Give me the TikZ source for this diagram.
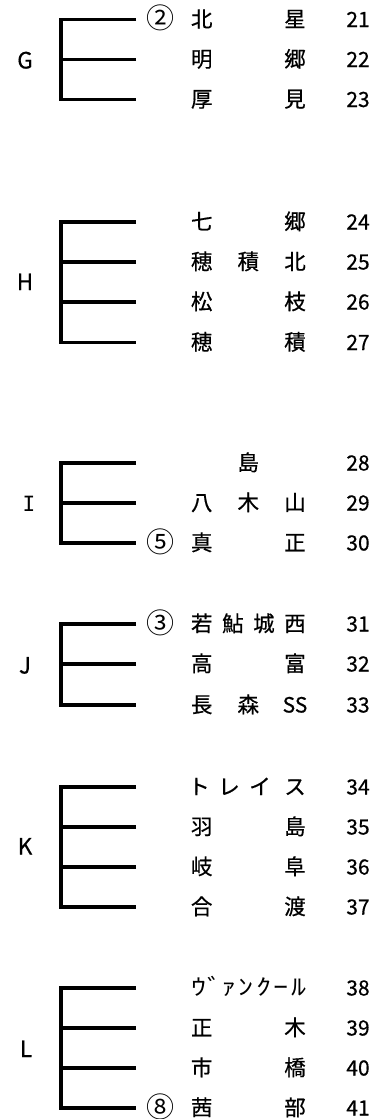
\documentclass[tikz,border=0pt]{standalone}
\usepackage{fontspec}
\setmainfont{Noto Sans CJK JP}[FakeBold=0.5]
\newfontfamily\monofnt{DejaVu Sans Mono}
\newfontfamily\hwfnt{Noto Sans CJK JP}
\newcommand\Tn[4]{\node[nm] (#1) at (#2,#3+7.5) {#4};}
\newcommand\Tc[3]{\node[circ] (#1) at (160,#2+9) {#3};}
\newcommand\Th[4]{\node[hw] (#1) at (#2,#3+7.5) {\scalebox{1.4}[1.05]{#4}};}
\begin{document}
\begin{tikzpicture}[x=1pt,y=-1pt,
  br/.style={line width=3.2pt, line join=miter},
  nm/.style={anchor=base, inner sep=0pt, font=\fontsize{21.5}{24}\selectfont},
  hw/.style={anchor=base, inner sep=0pt, font=\hwfnt\fontsize{21.5}{24}\selectfont},
  dg/.style={anchor=base, inner sep=0pt, font=\fontsize{21}{24}\selectfont},
  circ/.style={anchor=base, inner sep=0pt, font=\hwfnt\fontsize{28}{30}\selectfont},
  lab/.style={anchor=base, inner sep=0pt, font=\fontsize{22.5}{24}\selectfont}]
\useasboundingbox (0,0) rectangle (390,1119);
\coordinate (sp) at (61,0);
% ---------- G
\coordinate (g1) at (136,19.5); \coordinate (g2) at (136,59.5); \coordinate (g3) at (136,99.5);
\draw[br] (g1) -| (g3 -| sp) -- (g3);
\draw[br] (g2) -- (g2 -| sp);
\node[lab] (labG) at (25,59.5+9) {G};
\Tc{g1c}{19.5}{②}
\Tn{g1a}{201.7}{19.5}{北} \Tn{g1b}{295}{19.5}{星} \node[dg] (g1n) at (358,19.5+7.5) {21};
\Tn{g2a}{201.7}{59.5}{明} \Tn{g2b}{295}{59.5}{郷} \node[dg] (g2n) at (358,59.5+7.5) {22};
\Tn{g3a}{201.7}{99.5}{厚} \Tn{g3b}{295}{99.5}{見} \node[dg] (g3n) at (358,99.5+7.5) {23};
% ---------- H
\coordinate (h1) at (136,222); \coordinate (h2) at (136,262); \coordinate (h3) at (136,302); \coordinate (h4) at (136,342.5);
\draw[br] (h1) -| (h4 -| sp) -- (h4);
\draw[br] (h2) -- (h2 -| sp);
\draw[br] (h3) -- (h3 -| sp);
\node[lab] (labH) at (25,282.5+7.5) {H};
\Tn{h1a}{201.7}{222}{七} \Tn{h1b}{295}{222}{郷} \node[dg] (h1n) at (358,222+7.5) {24};
\Tn{h2a}{201.7}{262}{穂} \Tn{h2b}{248.3}{262}{積} \Tn{h2c}{295}{262}{北} \node[dg] (h2n) at (358,262+7.5) {25};
\Tn{h3a}{201.7}{302}{松} \Tn{h3b}{295}{302}{枝} \node[dg] (h3n) at (358,302+7.5) {26};
\Tn{h4a}{201.7}{342.5}{穂} \Tn{h4b}{295}{342.5}{積} \node[dg] (h4n) at (358,342.5+7.5) {27};
% ---------- I
\coordinate (i1) at (136,463); \coordinate (i2) at (136,503); \coordinate (i3) at (136,543);
\draw[br] (i1) -| (i3 -| sp) -- (i3);
\draw[br] (i2) -- (i2 -| sp);
\node[lab,font=\monofnt\fontsize{21}{22}\selectfont] (labI) at (29,503+8) {I};
\Tn{i1a}{248.3}{463}{島} \node[dg] (i1n) at (358,463+7.5) {28};
\Tn{i2a}{201.7}{503}{八} \Tn{i2b}{248.3}{503}{木} \Tn{i2c}{295}{503}{山} \node[dg] (i2n) at (358,503+7.5) {29};
\Tc{i3c}{543}{⑤}
\Tn{i3a}{201.7}{543}{真} \Tn{i3b}{295}{543}{正} \node[dg] (i3n) at (358,543+7.5) {30};
% ---------- J
\coordinate (j1) at (136,624); \coordinate (j2) at (136,664); \coordinate (j3) at (136,705);
\draw[br] (j1) -| (j3 -| sp) -- (j3);
\draw[br] (j2) -- (j2 -| sp);
\node[lab] (labJ) at (25,664+9.5) {J};
\Tc{j1c}{624}{③}
\Tn{j1a}{201.7}{624}{若} \Tn{j1b}{232.8}{624}{鮎} \Tn{j1c2}{263.9}{624}{城} \Tn{j1d}{295}{624}{西} \node[dg] (j1n) at (358,624+7.5) {31};
\Tn{j2a}{201.7}{664}{高} \Tn{j2b}{295}{664}{富} \node[dg] (j2n) at (358,664+7.5) {32};
\Tn{j3a}{201.7}{705}{長} \Tn{j3b}{248.3}{705}{森} \node[dg] (j3c) at (295,705+7.5) {SS}; \node[dg] (j3n) at (358,705+7.5) {33};
% ---------- K
\coordinate (k1) at (136,787); \coordinate (k2) at (136,827); \coordinate (k3) at (136,867); \coordinate (k4) at (136,907);
\draw[br] (k1) -| (k4 -| sp) -- (k4);
\draw[br] (k2) -- (k2 -| sp);
\draw[br] (k3) -- (k3 -| sp);
\node[lab] (labK) at (25,847+7.5) {K};
\Tn{k1a}{199}{787}{ト} \Tn{k1b}{229}{787}{レ} \Tn{k1c}{260}{787}{イ} \Tn{k1d}{295}{787}{ス} \node[dg] (k1n) at (358,787+7.5) {34};
\Tn{k2a}{201.7}{827}{羽} \Tn{k2b}{295}{827}{島} \node[dg] (k2n) at (358,827+7.5) {35};
\Tn{k3a}{201.7}{867}{岐} \Tn{k3b}{295}{867}{阜} \node[dg] (k3n) at (358,867+7.5) {36};
\Tn{k4a}{201.7}{907}{合} \Tn{k4b}{295}{907}{渡} \node[dg] (k4n) at (358,907+7.5) {37};
% ---------- L
\coordinate (l1) at (136,988); \coordinate (l2) at (136,1028); \coordinate (l3) at (136,1068); \coordinate (l4) at (136,1108);
\draw[br] (l1) -| (l4 -| sp) -- (l4);
\draw[br] (l2) -- (l2 -| sp);
\draw[br] (l3) -- (l3 -| sp);
\node[lab] (labL) at (26,1048+9) {L};
\Th{l1a}{199}{988}{ｳ} \Th{l1b}{215}{988}{ﾞ} \Th{l1c}{229}{988}{ｧ} \Th{l1d}{246.5}{988}{ﾝ}
\Th{l1e}{264}{988}{ｸ} \Th{l1f}{281}{988}{ｰ} \Th{l1g}{299}{988}{ﾙ} \node[dg] (l1n) at (358,988+7.5) {38};
\Tn{l2a}{201.7}{1028}{正} \Tn{l2b}{295}{1028}{木} \node[dg] (l2n) at (358,1028+7.5) {39};
\Tn{l3a}{201.7}{1068}{市} \Tn{l3b}{295}{1068}{橋} \node[dg] (l3n) at (358,1068+7.5) {40};
\Tc{l4c}{1108}{⑧}
\Tn{l4a}{201.7}{1108}{茜} \Tn{l4b}{295}{1108}{部} \node[dg] (l4n) at (358,1108+7.5) {41};
\end{tikzpicture}
\end{document}
